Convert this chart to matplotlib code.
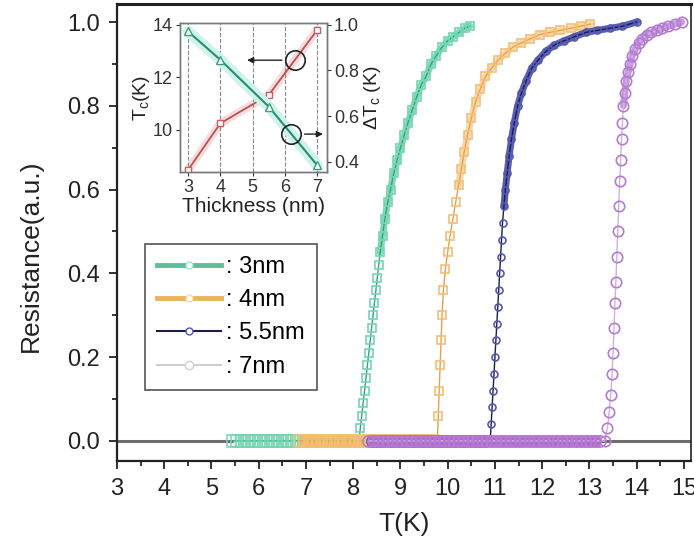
import numpy as np
import matplotlib
matplotlib.use('Agg')
import matplotlib.pyplot as plt
from matplotlib.lines import Line2D
from matplotlib.ticker import MultipleLocator, FormatStrFormatter

plt.rcParams['font.family'] = ['Liberation Sans', 'DejaVu Sans']
plt.rcParams['mathtext.fontset'] = 'custom'
plt.rcParams['mathtext.rm'] = 'Liberation Sans'
plt.rcParams['mathtext.it'] = 'Liberation Sans:italic'

# ---- main panel: normalized resistance vs temperature ----
# flat (superconducting, R = 0) part of each curve
t_flat_3nm = [5.45, 5.55, 5.65, 5.75, 5.85, 5.95, 6.05, 6.15, 6.25, 6.35, 6.45, 6.55, 6.65, 6.75,
              6.85, 6.95, 7.05, 7.15, 7.25, 7.35, 7.45, 7.55, 7.65, 7.75, 7.85, 7.95, 8.05]
t_flat_4nm = [6.88, 6.98, 7.08, 7.18, 7.28, 7.38, 7.48, 7.58, 7.68, 7.78, 7.88, 7.98, 8.08, 8.18,
              8.28, 8.38, 8.48, 8.58, 8.68, 8.78, 8.88, 8.98, 9.08, 9.18, 9.28, 9.38, 9.48, 9.58, 9.68]
t_flat_55nm = [8.40, 8.50, 8.60, 8.70, 8.80, 8.90, 9.00, 9.10, 9.20, 9.30, 9.40, 9.50, 9.60, 9.70,
               9.80, 9.90, 10.00, 10.10, 10.20, 10.30, 10.40, 10.50, 10.60, 10.70, 10.80]
t_flat_7nm = [8.32, 8.42, 8.52, 8.62, 8.72, 8.82, 8.92, 9.02, 9.12, 9.22, 9.32, 9.42, 9.52, 9.62,
              9.72, 9.82, 9.92, 10.02, 10.12, 10.22, 10.32, 10.42, 10.52, 10.62, 10.72, 10.82,
              10.92, 11.02, 11.12, 11.22, 11.32, 11.42, 11.52, 11.62, 11.72, 11.82, 11.92, 12.02,
              12.12, 12.22, 12.32, 12.42, 12.52, 12.62, 12.72, 12.82, 12.92, 13.02, 13.12, 13.22]

# transition part of each curve
t_3nm = [8.12, 8.15, 8.18, 8.21, 8.24, 8.27, 8.30, 8.33, 8.36, 8.39, 8.42, 8.45, 8.48, 8.51, 8.54,
         8.57, 8.62, 8.67, 8.73, 8.79, 8.86, 8.93, 9.00, 9.08, 9.16, 9.25, 9.34, 9.44, 9.54, 9.65,
         9.76, 9.88, 10.00, 10.12, 10.24, 10.36, 10.47]
r_3nm = [0.00, 0.03, 0.06, 0.09, 0.12, 0.15, 0.18, 0.21, 0.24, 0.27, 0.30, 0.33, 0.36, 0.39, 0.42,
         0.45, 0.49, 0.53, 0.57, 0.60, 0.64, 0.67, 0.70, 0.73, 0.76, 0.79, 0.82, 0.85, 0.87, 0.90,
         0.92, 0.94, 0.955, 0.965, 0.975, 0.985, 0.99]
t_4nm = [9.78, 9.80, 9.82, 9.84, 9.86, 9.88, 9.91, 9.95, 10.00, 10.05, 10.11, 10.17, 10.23, 10.29,
         10.35, 10.42, 10.50, 10.59, 10.69, 10.80, 10.93, 11.07, 11.22, 11.38, 11.56, 11.75, 11.95,
         12.16, 12.38, 12.60, 12.82, 13.02]
r_4nm = [0.00, 0.06, 0.12, 0.18, 0.24, 0.30, 0.36, 0.41, 0.45, 0.49, 0.53, 0.57, 0.61, 0.65, 0.69,
         0.73, 0.77, 0.81, 0.84, 0.87, 0.89, 0.91, 0.925, 0.94, 0.95, 0.96, 0.97, 0.975, 0.98, 0.985,
         0.99, 0.995]
t_55nm = [10.90, 10.92, 10.94, 10.96, 10.98, 11.00, 11.02, 11.04, 11.06, 11.08, 11.10, 11.12, 11.14,
          11.16, 11.19, 11.22, 11.26, 11.30, 11.35, 11.41, 11.48, 11.56, 11.66, 11.78, 11.92, 12.08,
          12.26, 12.46, 12.68, 12.92, 13.17, 13.43, 13.70, 14.00]
r_55nm = [0.00, 0.04, 0.08, 0.12, 0.16, 0.20, 0.24, 0.28, 0.32, 0.36, 0.40, 0.44, 0.48, 0.52, 0.56,
          0.60, 0.64, 0.68, 0.72, 0.76, 0.80, 0.83, 0.86, 0.89, 0.91, 0.93, 0.945, 0.955, 0.965,
          0.975, 0.98, 0.985, 0.99, 1.00]
t_7nm = [13.32, 13.38, 13.42, 13.45, 13.48, 13.50, 13.52, 13.54, 13.56, 13.58, 13.60, 13.62, 13.64,
         13.66, 13.68, 13.70, 13.72, 13.75, 13.78, 13.82, 13.86, 13.91, 13.97, 14.04, 14.12, 14.21,
         14.31, 14.42, 14.54, 14.67, 14.81, 14.95]
r_7nm = [0.00, 0.03, 0.07, 0.11, 0.16, 0.21, 0.27, 0.33, 0.38, 0.44, 0.50, 0.56, 0.62, 0.67, 0.72,
         0.76, 0.80, 0.83, 0.86, 0.88, 0.90, 0.92, 0.935, 0.95, 0.96, 0.97, 0.975, 0.98, 0.985, 0.99,
         0.995, 1.00]

labels = [': 3nm', ': 4nm', ': 5.5nm', ': 7nm']

# ---- inset: Tc and delta Tc vs thickness ----
thickness = [3, 4, 5.5, 7]
tc = [8.48, 10.25, 11.33, 13.8]
dtc = [0.97, 0.846, 0.641, 0.385]

fig = plt.figure(figsize=(6.94, 5.48), dpi=100)
ax = fig.add_axes([117/694, 1 - 461/548, 574/694, 457/548])

ax.axhline(0, color='#6e6e6e', lw=2.2, zorder=1)

# (flat T, transition T, transition R, marker, size, edge, line, flat band, upper band, band from R, z)
series = [
    (t_flat_3nm, t_3nm, r_3nm, 's', 5.5, '#74d6b2', '#3b9f7c', '#c4efe3', '#80dab8', 0.45, 2),
    (t_flat_4nm, t_4nm, r_4nm, 's', 5.5, '#f3bf78', '#e3a24e', '#f0b866', '#f8d8a8', 0.6, 3),
    (t_flat_55nm, t_55nm, r_55nm, 'o', 5, '#5458ad', '#1c1c4e', '#8f7fc0', '#5a5eb4', 0.55, 4),
    (t_flat_7nm, t_7nm, r_7nm, 'o', 7.5, '#b47bd2', '#cdb2da', '#b366cf', '#c797df', 0.78, 5),
]
for t_flat, t_tr, r_tr, mk, ms, edge, line, fband, uband, rcut, z in series:
    t_tr = np.asarray(t_tr)
    r_tr = np.asarray(r_tr)
    zero = np.zeros(len(t_flat))
    t = np.concatenate([t_flat, t_tr])
    r = np.concatenate([zero, r_tr])
    # dense overlapping symbols give solid bands in the original
    ax.plot(t_flat, zero, color=fband, lw=9, solid_capstyle='butt', zorder=z - 0.5)
    up = r_tr >= rcut
    ax.plot(t_tr[up], r_tr[up], color=uband, lw=5, solid_capstyle='round', zorder=z - 0.5)
    ax.plot(t, r, '-', color=line, lw=1, zorder=z)
    ax.plot(t_flat, zero, ls='none', marker=mk, ms=8, mec=edge, mfc='none', mew=1.1, zorder=z)
    ax.plot(t_tr, r_tr, ls='none', marker=mk, ms=ms, mec=edge, mfc='none', mew=1.2, zorder=z)

ax.set_xlim(3, 15.15)
ax.set_ylim(-0.048, 1.043)
ax.xaxis.set_major_locator(MultipleLocator(1))
ax.xaxis.set_minor_locator(MultipleLocator(0.5))
ax.yaxis.set_major_locator(MultipleLocator(0.2))
ax.yaxis.set_minor_locator(MultipleLocator(0.1))
ax.yaxis.set_major_formatter(FormatStrFormatter('%.1f'))
ax.tick_params(which='major', direction='out', length=6, width=1.3, labelsize=17,
               colors='#222222', pad=6)
ax.tick_params(which='minor', direction='out', length=3.5, width=1.1)
for side, lw in [('left', 1.6), ('bottom', 1.6), ('top', 2.2), ('right', 1.2)]:
    ax.spines[side].set_linewidth(lw)
    ax.spines[side].set_color('#222222')

ax.set_xlabel('T(K)', fontsize=19, color='#222222', labelpad=9)
ax.set_ylabel('Resistance(a.u.)', fontsize=19, color='#222222')
ax.yaxis.set_label_coords(-0.13, 0.45)

# legend with custom handles
handles = [
    Line2D([], [], color='#5cbf98', lw=3.5, marker='o', ms=5, mfc='white', mec='#9fe3c9'),
    Line2D([], [], color='#eab35c', lw=3.5, marker='o', ms=5, mfc='white', mec='#f6d7a6'),
    Line2D([], [], color='#1c1c4e', lw=1.5, marker='o', ms=5, mfc='white', mec='#5458ad'),
    Line2D([], [], color='#cfcfcf', lw=1.5, marker='o', ms=6, mfc='white', mec='#d8c8e0'),
]
leg = ax.legend(handles, labels, loc='upper left', bbox_to_anchor=(145/694, 1 - 244/548),
                bbox_transform=fig.transFigure, borderaxespad=0, fontsize=17,
                handlelength=2.7, handletextpad=0.25, labelspacing=0.48, borderpad=0.5,
                fancybox=False, framealpha=1, edgecolor='#555555')
leg.get_frame().set_linewidth(1.2)

# inset
ins = fig.add_axes([180/694, 1 - 172/548, 147/694, 149/548])
ins2 = ins.twinx()
ins.plot(thickness, tc, '-', color='#f5dcdc', lw=6, zorder=1, solid_capstyle='round')
ins2.plot(thickness, dtc, '-', color='#cdf3ed', lw=8, zorder=1, solid_capstyle='round')
ins.plot(thickness, tc, '-', color='#b75252', lw=1.3, marker='s', ms=5, mfc='white',
         mec='#c06464', mew=1, zorder=3)
ins2.plot(thickness, dtc, '-', color='#2f8c6a', lw=1.5, marker='^', ms=6, mfc='white',
          mec='#3c9e7a', mew=1, zorder=3)
ins2.patch.set_visible(False)

ins.set_xlim(2.75, 7.3)
ins.set_ylim(8.4, 14.06)
ins2.set_ylim(0.356, 1.007)
ins.set_xticks([3, 4, 5, 6, 7])
ins.set_yticks([10, 12, 14])
ins2.set_yticks([0.4, 0.6, 0.8, 1.0])
ins2.yaxis.set_major_formatter(FormatStrFormatter('%.1f'))
ins.grid(axis='x', ls='--', color='#8a8a8a', lw=0.8)
for a in (ins, ins2):
    a.tick_params(direction='out', length=3, width=0.8, labelsize=13, pad=2, colors='#333333')
    for s in a.spines.values():
        s.set_color('#777777')
        s.set_linewidth(1.0)

ins.set_xlabel('Thickness (nm)', fontsize=15, labelpad=1, color='#222222')
ins.set_ylabel(r'T$_\mathrm{c}$(K)', fontsize=14, labelpad=1, color='#222222')
ins2.set_ylabel(r'$\Delta$T$_\mathrm{c}$ (K)', fontsize=14, labelpad=2, color='#222222')

# circles marking which curve belongs to which axis
circ_red_x = 6.3
circ_green_x = 6.2
y_red = np.interp(circ_red_x, thickness, tc)
y_green = np.interp(circ_green_x, thickness, dtc)
ins.plot([circ_red_x], [y_red], 'o', ms=14, mfc='none', mec='#222222', mew=1.2, zorder=4)
ins2.plot([circ_green_x], [y_green], 'o', ms=14, mfc='none', mec='#222222', mew=1.2, zorder=4)
ins.annotate('', xy=(4.74, y_red), xytext=(5.99, y_red),
             arrowprops=dict(arrowstyle='-|>', color='#222222', lw=1, mutation_scale=9))
ins2.annotate('', xy=(7.26, y_green), xytext=(6.52, y_green),
              arrowprops=dict(arrowstyle='-|>', color='#222222', lw=1, mutation_scale=9))

fig.savefig('out.png', dpi=100)
